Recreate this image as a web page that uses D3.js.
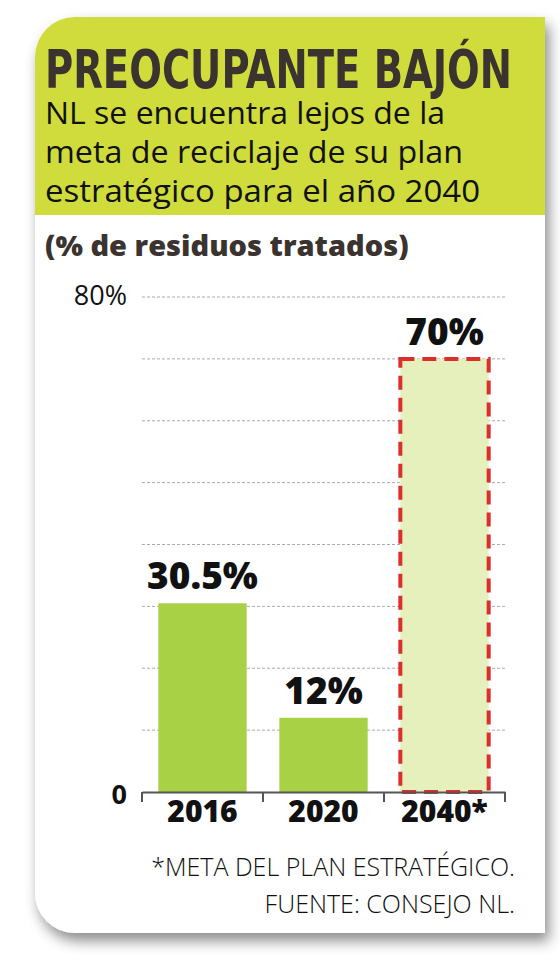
<!DOCTYPE html><html><head><meta charset="utf-8"><script src="https://cdn.jsdelivr.net/npm/d3@7"></script>
<style>body{margin:0;background:#fff}</style></head><body><svg id="c" width="560" height="970"></svg>
<script>
const categories=["2016","2020","2040*"];
const values=[30.5,12,70];
const valueLabels=["30.5%","12%","70%"];
const isGoal=[false,false,true];
const gridValues=[10,20,30,40,50,60,70,80];
const svg=d3.select("#c");
const defs=svg.append("defs");
const f=defs.append("filter").attr("id","sh").attr("x","-10%").attr("y","-10%").attr("width","130%").attr("height","130%");
f.append("feDropShadow").attr("dx",4).attr("dy",8).attr("stdDeviation",7).attr("flood-opacity",0.45);
const L=35,R=545,T=17,B=933,r=40;
const card=`M${L+r},${T}H${R}V${B}H${L+r}A${r},${r} 0 0 1 ${L},${B-r}V${T+r}A${r},${r} 0 0 1 ${L+r},${T}Z`;
svg.append("path").attr("d",card).attr("fill","#fff").attr("filter","url(#sh)");
defs.append("clipPath").attr("id","cc").append("path").attr("d",card);
svg.append("rect").attr("x",L).attr("y",T).attr("width",R-L).attr("height",215-T).attr("fill","#cfdc3c").attr("clip-path","url(#cc)");
const dark="#3a3330";
svg.append("text").attr("x",45).attr("y",88).attr("textLength",467).attr("lengthAdjust","spacingAndGlyphs")
 .attr("font-family","DejaVu Sans Condensed").attr("font-weight","bold").attr("font-size",54).attr("fill",dark).text("PREOCUPANTE BAJÓN");
const subW=[400,418,435];
["NL se encuentra lejos de la","meta de reciclaje de su plan","estratégico para el año 2040"].forEach((t,i)=>
 svg.append("text").attr("x",45).attr("y",124+i*39).attr("textLength",subW[i]).attr("lengthAdjust","spacingAndGlyphs")
  .attr("font-family","Open Sans").attr("font-size",31).attr("fill","#111").text(t));
svg.append("text").attr("x",45).attr("y",256).attr("font-family","Open Sans").attr("font-weight","800").attr("font-size",29).attr("fill",dark).text("(% de residuos tratados)");
const x=d3.scaleBand().domain(categories).range([142,505]).paddingInner(0.27).paddingOuter(0.135);
const y=d3.scaleLinear().domain([0,80]).range([792,297]);
svg.selectAll(".g").data(gridValues).join("line").attr("x1",142).attr("x2",505).attr("y1",d=>y(d)).attr("y2",d=>y(d))
 .attr("stroke","#aaa").attr("stroke-width",1).attr("stroke-dasharray","3,2");
categories.forEach((c,i)=>{
 const g=isGoal[i];
 svg.append("rect").attr("x",x(c)).attr("y",y(values[i])).attr("width",x.bandwidth()).attr("height",y(0)-y(values[i]))
  .attr("fill",g?"#e6f0bc":"#a8d146").attr("stroke",g?"#dc2e2a":"none").attr("stroke-width",g?4:0).attr("stroke-dasharray",g?"14,8":null);
 svg.append("text").attr("x",x(c)+x.bandwidth()/2).attr("y",y(values[i])-14).attr("text-anchor","middle")
  .attr("font-family","Open Sans").attr("font-weight","800").attr("font-size",37).attr("fill","#111").text(valueLabels[i]);
});
const ax=svg.append("g").attr("transform","translate(0,792)").call(d3.axisBottom(x).tickSizeInner(0).tickSizeOuter(0).tickPadding(7));
ax.select(".domain").attr("stroke","#555").attr("stroke-width",2);
ax.selectAll("text").attr("font-family","Open Sans").attr("font-weight","800").attr("font-size",30).attr("fill","#111").attr("dy","0.75em");
const edges=[142,...categories.map(c=>x(c)+x.bandwidth()+x.step()*0.27/2).slice(0,2),505];
svg.selectAll(".tk").data(edges).join("line").attr("x1",d=>d).attr("x2",d=>d).attr("y1",792).attr("y2",802).attr("stroke","#555").attr("stroke-width",2);
svg.append("text").attr("x",127).attr("y",305).attr("text-anchor","end").attr("font-family","Open Sans").attr("font-size",27).attr("fill","#111").text("80%");
svg.append("text").attr("x",127).attr("y",804).attr("text-anchor","end").attr("font-family","Open Sans").attr("font-weight","bold").attr("font-size",27).attr("fill","#111").text("0");
["*META DEL PLAN ESTRATÉGICO.","FUENTE: CONSEJO NL."].forEach((t,i)=>
 svg.append("text").attr("x",515).attr("y",876+i*37).attr("text-anchor","end").attr("font-family","Open Sans").attr("font-weight","300").attr("font-size",25).attr("fill","#111").text(t));
</script></body></html>
